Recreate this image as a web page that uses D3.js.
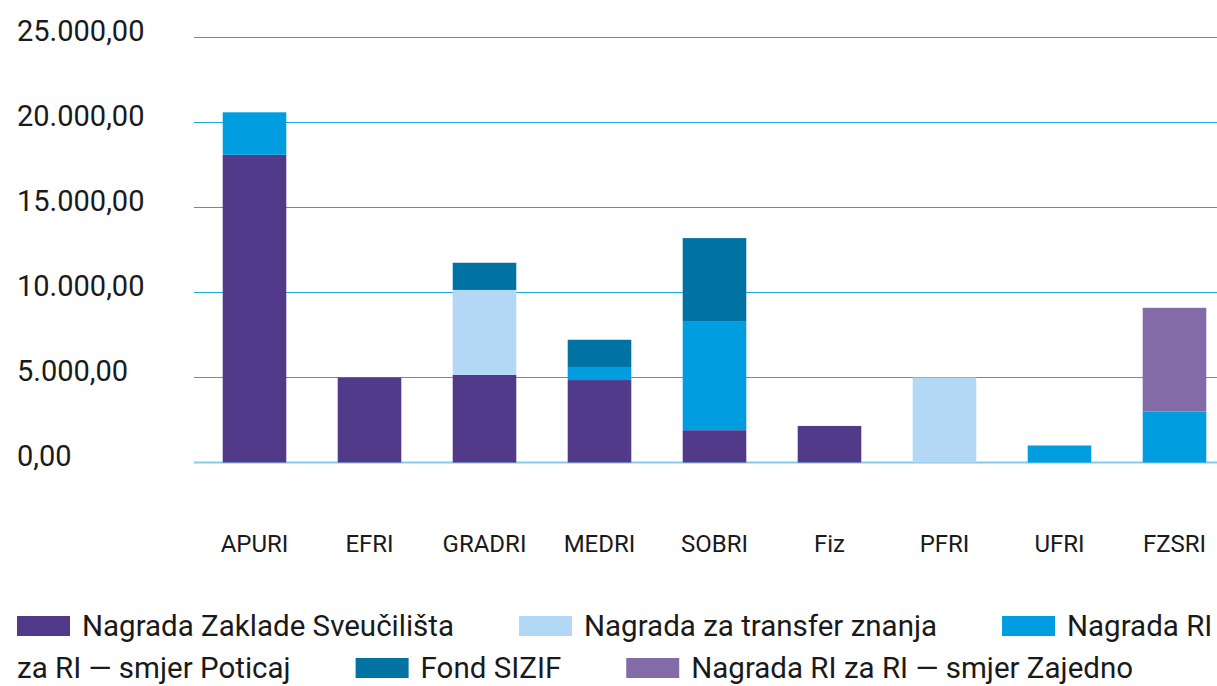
<!DOCTYPE html>
<html><head><meta charset="utf-8">
<script src="https://cdn.jsdelivr.net/npm/d3@7"></script>
<style>body{margin:0;background:#fff}svg{display:block}</style>
</head><body>
<svg id="c" width="1217" height="686"></svg>
<script>
const categories = ["APURI","EFRI","GRADRI","MEDRI","SOBRI","Fiz","PFRI","UFRI","FZSRI"];
const zaklada  = [18100, 5000, 5150, 4850, 1900, 2150, 0, 0, 0];
const transfer = [0, 0, 5000, 0, 0, 0, 5000, 0, 0];
const poticaj  = [2500, 0, 0, 770, 6420, 0, 0, 1000, 3000];
const sizif    = [0, 0, 1600, 1600, 4880, 0, 0, 0, 0];
const zajedno  = [0, 0, 0, 0, 0, 0, 0, 0, 6100];
const seriesNames = ["Nagrada Zaklade Sveučilišta","Nagrada za transfer znanja","Nagrada RI za RI — smjer Poticaj","Fond SIZIF","Nagrada RI za RI — smjer Zajedno"];
const colors = ["#523a8a","#b3d8f6","#009ee0","#0073a3","#836ba8"];
const yTicks = [0,5000,10000,15000,20000,25000];

const seriesVals = [zaklada, transfer, poticaj, sizif, zajedno];
const rows = categories.map((c,i)=>{const o={cat:c}; seriesNames.forEach((s,j)=>o[s]=seriesVals[j][i]); return o;});
const stacked = d3.stack().keys(seriesNames)(rows);

const svg = d3.select("#c");
const font = "Roboto, 'Liberation Sans', sans-serif";
const y = d3.scaleLinear().domain([0,25000]).range([462.5,37.5]);
const x = d3.scaleBand().domain(categories).range([197,1232]).paddingInner(0.447).paddingOuter(0.2235);

const fmt = v => { const s = d3.format(",.2f")(v); return s.replace(/,/g,"#").replace(".",",").replace(/#/g,"."); };

// gridlines
svg.append("g").selectAll("line").data(yTicks).join("line")
  .attr("x1",194).attr("x2",1217)
  .attr("y1",d=>y(d)).attr("y2",d=>y(d))
  .attr("stroke",d=>d===0?"#86cbec":"#22a6e0")
  .attr("stroke-width",d=>d===0?2:1.2);

// y labels
svg.append("g").selectAll("text").data(yTicks).join("text")
  .attr("x",17).attr("y",d=>y(d)+3)
  .attr("font-family",font).attr("font-size",29).attr("fill","#1a1a1a")
  .text(d=>fmt(d));

// bars
svg.append("g").selectAll("g").data(stacked).join("g")
  .attr("fill",(d,i)=>colors[i])
  .selectAll("rect").data(d=>d.filter(p=>p[1]-p[0]>0)).join("rect")
  .attr("x",d=>x(d.data.cat)).attr("width",x.bandwidth())
  .attr("y",d=>y(d[1])).attr("height",d=>y(d[0])-y(d[1]));

// x labels
svg.append("g").selectAll("text").data(categories).join("text")
  .attr("x",d=>x(d)+x.bandwidth()/2).attr("y",552)
  .attr("text-anchor","middle")
  .attr("font-family",font).attr("font-size",24).attr("fill","#1a1a1a")
  .text(d=>d);

// legend flow layout
const lg = svg.append("g");
const fs = 29.5, lineYs = [636, 678];
let line = 0, cx = 17;
const maxX = 1217, sq = 53, sqH = 20, sqGap = 12, itemGap = 65;
const meas = lg.append("text").attr("font-family",font).attr("font-size",fs).attr("visibility","hidden");
const wlen = t => { meas.text(t); return meas.node().getComputedTextLength(); };
seriesNames.forEach((name,i)=>{
  if (cx + sq > maxX) { line++; cx = 17; }
  lg.append("rect").attr("x",cx).attr("y",lineYs[line]-sqH).attr("width",sq).attr("height",sqH).attr("fill",colors[i]);
  cx += sq + sqGap;
  const words = name.split(" ");
  let cur = "", startX = cx;
  words.forEach((w,k)=>{
    const cand = cur ? cur + " " + w : w;
    if (startX + wlen(cand) > maxX && cur) {
      lg.append("text").attr("x",startX).attr("y",lineYs[line]).attr("font-family",font).attr("font-size",fs).attr("fill","#1a1a1a").text(cur);
      line++; startX = 17; cur = w;
    } else cur = cand;
  });
  lg.append("text").attr("x",startX).attr("y",lineYs[line]).attr("font-family",font).attr("font-size",fs).attr("fill","#1a1a1a").text(cur);
  cx = startX + wlen(cur) + itemGap;
});
meas.remove();
</script>
</body></html>
